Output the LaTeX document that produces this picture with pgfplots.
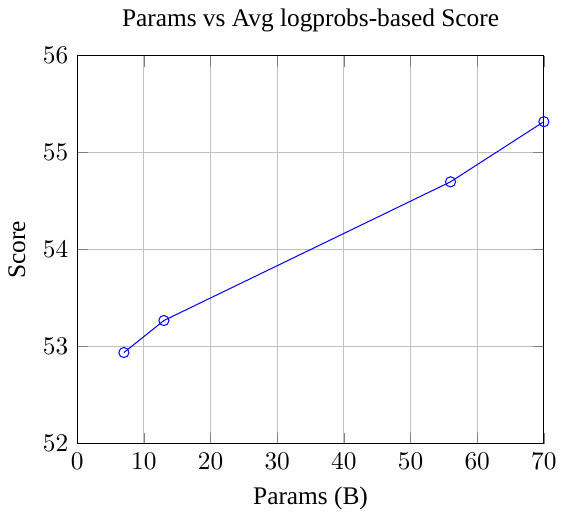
\documentclass[border=0pt]{standalone}
\usepackage{fontspec}
\setmainfont{Liberation Serif}
\usepackage{pgfplots}
\pgfplotsset{compat=1.18}
\begin{document}
\begin{tikzpicture}
\begin{axis}[
  scale only axis,
  width=184pt, height=153pt,
  xmin=0, xmax=70, ymin=52, ymax=56,
  xtick={0,10,...,70}, ytick={52,53,...,56},
  grid=major,
  title={Params vs Avg logprobs-based Score},
  xlabel={Params (B)}, ylabel={Score},
]
\addplot[blue, mark=o] coordinates {(7,52.94) (13,53.27) (56,54.70) (70,55.32)};
\end{axis}
\end{tikzpicture}
\end{document}
